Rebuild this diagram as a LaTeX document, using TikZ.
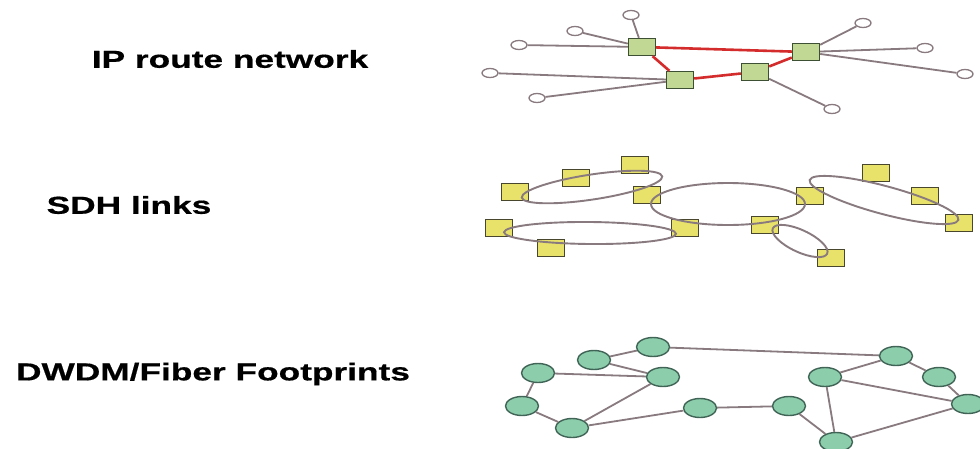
\documentclass[tikz,border=0pt]{standalone}
\usepackage{fontspec}
\newfontfamily\lblfont[FakeStretch=1.44,FakeBold=0.6]{Liberation Sans}
\usetikzlibrary{shapes.geometric}
\definecolor{ipgreen}{RGB}{192,216,148}
\definecolor{ipgreenb}{RGB}{62,80,52}
\definecolor{redline}{RGB}{212,44,44}
\definecolor{grayline}{RGB}{136,122,126}
\definecolor{sdhyellow}{RGB}{232,226,106}
\definecolor{sdhyellowb}{RGB}{72,70,44}
\definecolor{teal}{RGB}{140,206,172}
\definecolor{tealb}{RGB}{64,100,86}
\tikzset{
  lbl/.style={font=\lblfont\bfseries\fontsize{24.5}{28}\selectfont, inner sep=0pt},
  iprouter/.style={rectangle, draw=ipgreenb, fill=ipgreen, line width=1.4pt, minimum width=27pt, minimum height=17pt, inner sep=0pt},
  iphost/.style={ellipse, draw=grayline, fill=white, line width=1.3pt, minimum width=16pt, minimum height=9pt, inner sep=0pt},
  sdhbox/.style={rectangle, draw=sdhyellowb, fill=sdhyellow, line width=1.4pt, minimum width=27pt, minimum height=17pt, inner sep=0pt},
  fiber/.style={ellipse, draw=tealb, fill=teal, line width=1.4pt, minimum width=33pt, minimum height=19pt, inner sep=0pt},
  redlink/.style={draw=redline, line width=2.6pt},
  graylink/.style={draw=grayline, line width=1.8pt},
  ring/.style={draw=grayline, line width=1.9pt}
}
\begin{document}
\begin{tikzpicture}[x=1pt,y=1pt]
\useasboundingbox (0,0) rectangle (980,-448);
\fill[white] (0,0) rectangle (980,-448);

% labels
\node[lbl] (t1) at (230,-59) {IP route network};
\node[lbl] (t2) at (129,-205) {SDH links};
\node[lbl] (t3) at (213,-374) {DWDM/Fiber Footprints};

% IP route network
\node[iprouter] (ipA) at (642,-47) {};
\node[iprouter] (ipB) at (680,-80) {};
\node[iprouter] (ipC) at (755,-72) {};
\node[iprouter] (ipD) at (806,-52) {};
\node[iphost] (h1) at (631,-15) {};
\node[iphost] (h2) at (575,-31) {};
\node[iphost] (h3) at (519,-45) {};
\node[iphost] (h4) at (490,-73) {};
\node[iphost] (h5) at (537,-98) {};
\node[iphost] (h6) at (832,-109) {};
\node[iphost] (h7) at (863,-23) {};
\node[iphost] (h8) at (925,-48) {};
\node[iphost] (h9) at (965,-74) {};
\draw[graylink] (h1) -- (ipA);
\draw[graylink] (h2) -- (ipA);
\draw[graylink] (h3) -- (ipA);
\draw[graylink] (h4) -- (ipB);
\draw[graylink] (h5) -- (ipB);
\draw[graylink] (h6) -- (ipC);
\draw[graylink] (h7) -- (ipD);
\draw[graylink] (h8) -- (ipD);
\draw[graylink] (h9) -- (ipD);
\draw[redlink] (ipA) -- (ipD);
\draw[redlink] (ipA) -- (ipB);
\draw[redlink] (ipB) -- (ipC);
\draw[redlink] (ipC) -- (ipD);

% SDH links
\node[sdhbox] (s1) at (515,-192) {};
\node[sdhbox] (s2) at (576,-178) {};
\node[sdhbox] (s3) at (635,-165) {};
\node[sdhbox] (s4) at (647,-195) {};
\node[sdhbox] (s5) at (499,-228) {};
\node[sdhbox] (s6) at (551,-248) {};
\node[sdhbox] (s7) at (685,-228) {};
\node[sdhbox] (s8) at (765,-225) {};
\node[sdhbox] (s9) at (810,-196) {};
\node[sdhbox] (s10) at (831,-258) {};
\node[sdhbox] (s11) at (876,-173) {};
\node[sdhbox] (s12) at (925,-196) {};
\node[sdhbox] (s13) at (959,-223) {};
\draw[ring, rotate around={8.6:(592,-187)}] (592,-187) ellipse (71 and 12.5);
\draw[ring] (728,-204) ellipse (77 and 21);
\draw[ring, rotate around={-0.5:(590,-233)}] (590,-233) ellipse (86 and 11);
\draw[ring, rotate around={-25:(800,-241)}] (800,-241) ellipse (30 and 11);
\draw[ring, rotate around={-15:(884,-200)}] (884,-200) ellipse (77 and 14);

% DWDM / fiber
\node[fiber] (d1) at (653,-347) {};
\node[fiber] (d2) at (594,-360) {};
\node[fiber] (d3) at (538,-373) {};
\node[fiber] (d4) at (663,-377) {};
\node[fiber] (d5) at (522,-406) {};
\node[fiber] (d6) at (572,-428) {};
\node[fiber] (d7) at (700,-408) {};
\node[fiber] (d8) at (789,-406) {};
\node[fiber] (d9) at (825,-377) {};
\node[fiber] (d10) at (896,-356) {};
\node[fiber] (d11) at (939,-377) {};
\node[fiber] (d12) at (968,-404) {};
\node[fiber] (d13) at (836,-442) {};
\draw[graylink] (d1) -- (d10);
\draw[graylink] (d1) -- (d2);
\draw[graylink] (d2) -- (d4);
\draw[graylink] (d3) -- (d4);
\draw[graylink] (d3) -- (d5);
\draw[graylink] (d5) -- (d6);
\draw[graylink] (d6) -- (d4);
\draw[graylink] (d6) -- (d7);
\draw[graylink] (d7) -- (d8);
\draw[graylink] (d8) -- (d13);
\draw[graylink] (d9) -- (d10);
\draw[graylink] (d9) -- (d13);
\draw[graylink] (d9) -- (d12);
\draw[graylink] (d10) -- (d11);
\draw[graylink] (d11) -- (d12);
\draw[graylink] (d12) -- (d13);
\end{tikzpicture}
\end{document}
